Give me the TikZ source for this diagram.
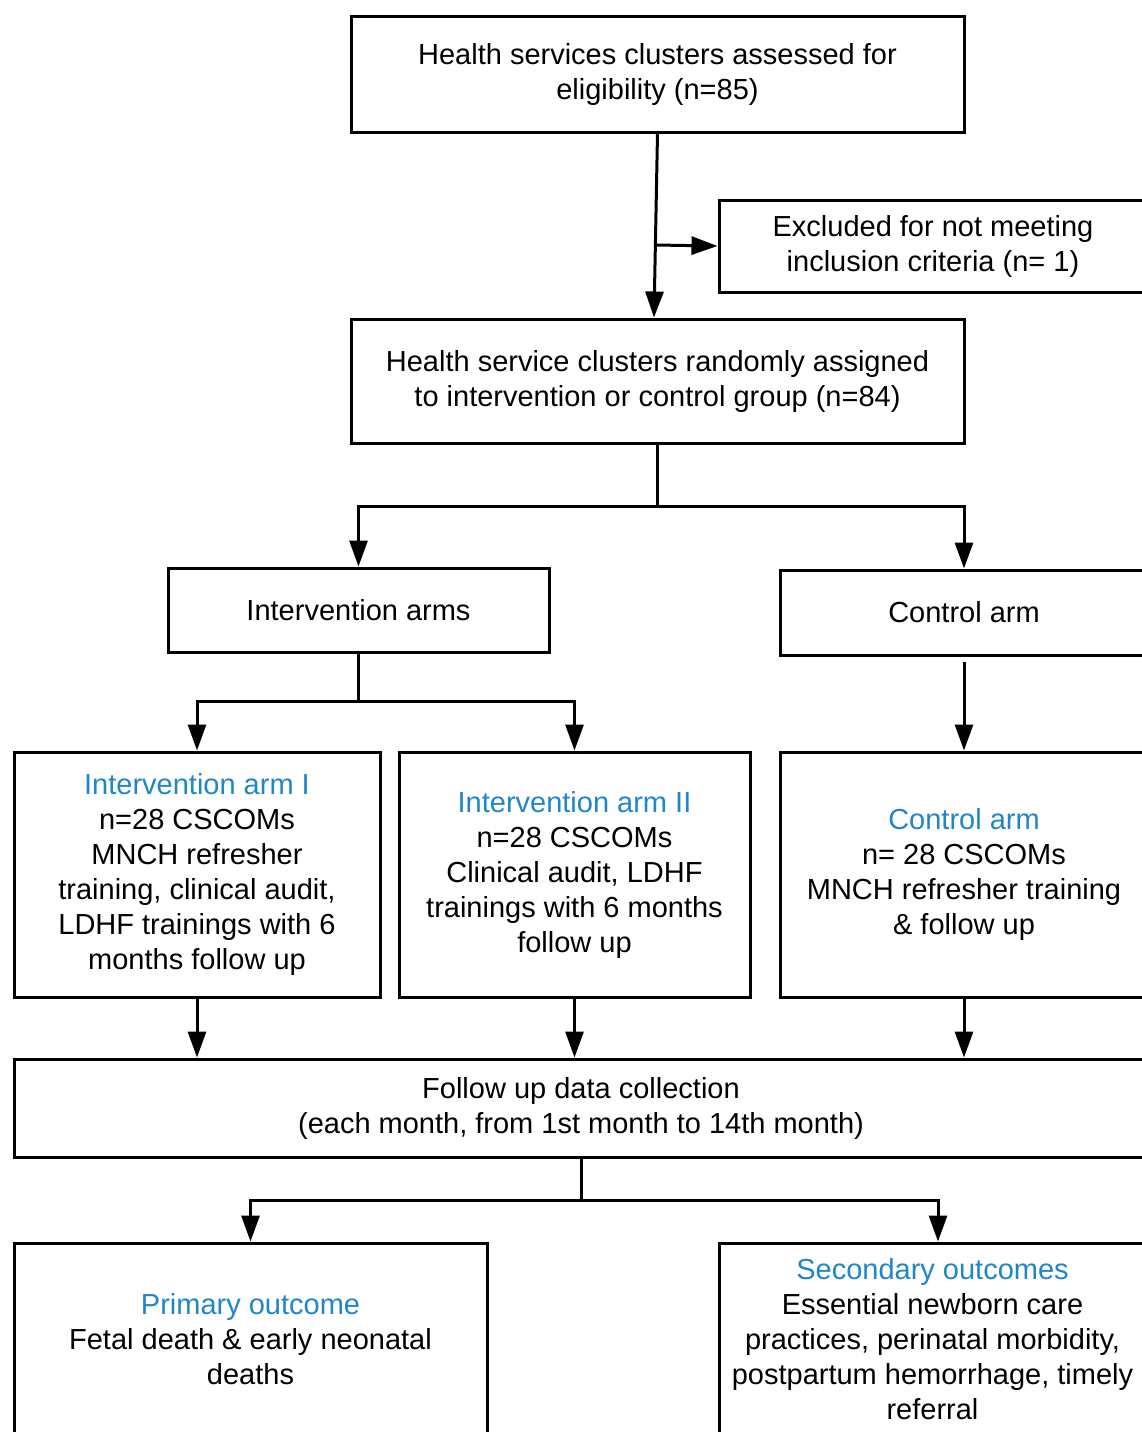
\documentclass[tikz,border=0pt]{standalone}
\usepackage{fontspec}
\setmainfont{Liberation Sans}
\usepackage{tikz}
\usetikzlibrary{calc,positioning,arrows.meta}
\definecolor{ttlblue}{HTML}{1F87C7}

\begin{document}
\begin{tikzpicture}[x=0.5pt, y=-0.5pt, line width=1.5pt,
  bx/.style={draw, rectangle, align=center, inner sep=2pt, font=\fontsize{14.5}{17.5}\selectfont},
  ttl/.style={text=ttlblue},
  arr/.style={-{Triangle[length=13pt,width=9pt]}}]
\useasboundingbox (0,0) rectangle (1142,1432);

\node[bx, minimum width=306.5pt, minimum height=58pt] (top) at (657.5,74)
  {Health services clusters assessed for\\eligibility (n=85)};
\node[bx, minimum width=214pt, minimum height=46pt] (excl) at (933,246)
  {Excluded for not meeting\\inclusion criteria (n= 1)};
\node[bx, minimum width=306.5pt, minimum height=62pt] (rand) at (657.5,381)
  {Health service clusters randomly assigned\\to intervention or control group (n=84)};
\node[bx, minimum width=190.5pt, minimum height=42pt] (intv) at (358.5,610) {Intervention arms};
\node[bx, minimum width=184pt, minimum height=42.5pt] (ctrl) at (964,612.5) {Control arm};
\node[bx, minimum width=183pt, minimum height=122.5pt] (armi) at (197,874.5)
  {\textcolor{ttlblue}{Intervention arm I}\\n=28 CSCOMs\\MNCH refresher\\training, clinical audit,\\LDHF trainings with 6\\months follow up};
\node[bx, minimum width=175.5pt, minimum height=122.5pt] (armii) at (574.5,874.5)
  {\textcolor{ttlblue}{Intervention arm II}\\n=28 CSCOMs\\Clinical audit, LDHF\\trainings with 6 months\\follow up};
\node[bx, minimum width=184pt, minimum height=122.5pt] (armc) at (964,874.5)
  {\textcolor{ttlblue}{Control arm}\\n= 28 CSCOMs\\MNCH refresher training\\\& follow up};
\node[bx, minimum width=567pt, minimum height=49pt] (fup) at (581,1108)
  {Follow up data collection\\(each month, from 1st month to 14th month)};
\node[bx, minimum width=236.5pt, minimum height=96pt] (prim) at (250.5,1339)
  {\textcolor{ttlblue}{Primary outcome}\\Fetal death \& early neonatal\\deaths};
\node[bx, minimum width=213.5pt, minimum height=96pt] (sec) at (932.5,1339)
  {\textcolor{ttlblue}{Secondary outcomes}\\Essential newborn care\\practices, perinatal morbidity,\\postpartum hemorrhage, timely\\referral};

% split points
\coordinate (brk) at (655.5,245);
\coordinate (sp1) at (657.5,506);
\coordinate (sp2) at (358.5,701);
\coordinate (sp3) at (581,1200);

\draw[arr] (top.south) -- ([xshift=-1.75pt]rand.north);
\draw[arr] (brk) -- (excl.west);
\draw (rand.south) -- (sp1);
\draw[arr] (sp1) -| (intv.north);
\draw[arr] (sp1) -| (ctrl.north);
\draw (intv.south) -- (sp2);
\draw[arr] (sp2) -| (armi.north);
\draw[arr] (sp2) -| (armii.north);
\draw[arr, shorten <=2.5pt] (ctrl.south) -- (armc.north);
\foreach \a in {armi, armii, armc}{
  \draw[arr] (\a.south) -- (\a.south |- fup.north);
}
\draw (fup.south) -- (sp3);
\draw[arr] (sp3) -| (prim.north);
\draw[arr] (sp3) -| ([xshift=2.75pt]sec.north);

\end{tikzpicture}
\end{document}
